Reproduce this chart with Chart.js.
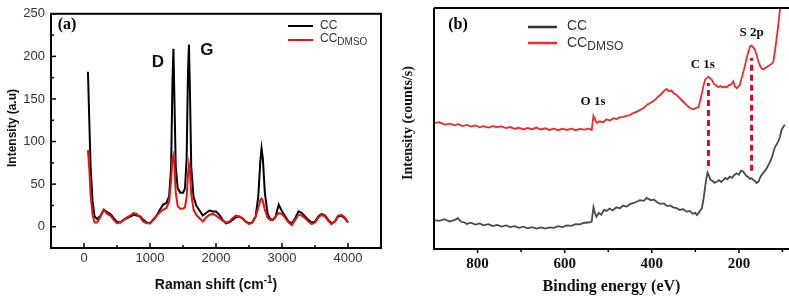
<!DOCTYPE html>
<html lang="en">
<head>
    <meta charset="UTF-8">
    <title>Raman and XPS spectra</title>
    <script src="https://cdn.jsdelivr.net/npm/chart.js"></script>
    <style>
        * {
            margin: 0;
            padding: 0;
            box-sizing: border-box;
        }

        body {
            background: #fff;
            width: 789px;
            height: 296px;
            overflow: hidden;
            position: relative;
        }

        .panel {
            position: absolute;
            top: 0;
        }

        #ramanPanel { left: 0; width: 400px; height: 296px; }
        #xpsPanel { left: 400px; width: 389px; height: 296px; }
    </style>
</head>
<body>
    <div class="panel" id="ramanPanel"><canvas id="raman" width="400" height="296"></canvas></div>
    <div class="panel" id="xpsPanel"><canvas id="xps" width="389" height="296"></canvas></div>
    <script>
        // (a) Raman spectra
        const ramanShift = [
            60, 80, 100, 130, 160, 200, 250, 300, 350, 400,
            450, 500, 550, 600, 650, 700, 750, 800, 850, 900,
            950, 1000, 1050, 1100, 1150, 1200, 1250, 1290, 1320, 1340,
            1355, 1370, 1390, 1420, 1460, 1500, 1530, 1555, 1575, 1590,
            1605, 1625, 1660, 1700, 1750, 1800, 1850, 1900, 1950, 2000,
            2050, 2100, 2150, 2200, 2250, 2300, 2350, 2400, 2450, 2500,
            2550, 2600, 2640, 2670, 2690, 2710, 2740, 2780, 2820, 2860,
            2900, 2950, 3000, 3050, 3100, 3150, 3200, 3250, 3300, 3350,
            3400, 3450, 3500, 3550, 3600, 3650, 3700, 3750, 3800, 3850,
            3900, 3950, 4000
        ];
        const ramanCC = [
            182, 125, 70, 30, 12, 9, 13, 20, 17, 15,
            10, 6, 5, 8, 10, 12, 14, 13, 12, 8,
            5, 4, 8, 13, 20, 26, 28, 36, 70, 170,
            209, 150, 70, 45, 40, 40, 45, 80, 180, 214,
            160, 70, 35, 25, 19, 13, 16, 19, 18, 18,
            14, 8, 4, 5, 8, 11, 12, 10, 6, 4,
            5, 12, 35, 75, 92, 80, 40, 16, 9, 8,
            11, 26, 18, 12, 6, 4, 10, 18, 16, 12,
            8, 5, 6, 12, 15, 13, 8, 4, 6, 12,
            13, 10, 5
        ];
        const ramanDMSO = [
            90, 68, 38, 14, 5, 5, 12, 20, 15, 13,
            8, 4, 5, 8, 11, 13, 16, 15, 11, 6,
            4, 4, 9, 13, 17, 20, 22, 30, 55, 80,
            84, 72, 40, 24, 21, 21, 23, 35, 60, 73,
            65, 38, 20, 14, 10, 6, 11, 14, 15, 13,
            10, 7, 5, 6, 10, 13, 12, 10, 6, 3,
            5, 12, 22, 31, 33, 30, 20, 11, 8, 8,
            12, 16, 15, 10, 5, 2, 8, 14, 13, 10,
            6, 3, 5, 11, 14, 12, 7, 3, 6, 13,
            14, 11, 5
        ];
        const ramanXTicks = [0, 1000, 2000, 3000, 4000];
        const ramanXMinor = [500, 1500, 2500, 3500];
        const ramanYTicks = [0, 50, 100, 150, 200, 250];
        const ramanYMinor = [25, 75, 125, 175, 225];

        // (b) XPS survey
        const xpsEnergyDMSO = [
            900, 888, 876, 864, 852, 845, 835, 825, 815, 805,
            795, 787, 775, 765, 755, 745, 735, 725, 715, 705,
            695, 685, 675, 665, 655, 645, 635, 625, 615, 605,
            595, 585, 575, 565, 555, 545, 538, 534, 530, 526,
            520, 512, 504, 496, 488, 481, 474, 466, 458, 450,
            442, 435, 427, 418, 410, 402, 393, 385, 378, 372,
            366, 360, 355, 350, 343, 336, 328, 320, 312, 305,
            298, 293, 289, 285, 281, 277, 273, 270, 266, 262,
            257, 252, 247, 242, 237, 232, 228, 223, 218, 213,
            209, 205, 201, 198, 194, 190, 186, 182, 178, 174,
            171, 167, 163, 159, 155, 151, 148, 144, 140, 135,
            129, 125, 121, 117, 113, 110, 106, 100, 95
        ];
        const xpsDMSO = [
            52.2, 52.6, 51.6, 52.0, 51.3, 51.9, 51.0, 51.5, 50.8, 51.3,
            50.5, 51.0, 50.4, 51.0, 50.6, 50.9, 50.2, 50.6, 49.9, 50.3,
            49.6, 50.2, 49.7, 50.4, 49.6, 50.1, 49.4, 49.9, 49.3, 49.9,
            49.4, 49.9, 49.3, 49.8, 49.5, 49.9, 49.4, 55.2, 53.5, 52.3,
            53.0, 52.6, 53.8, 53.3, 54.3, 53.9, 54.6, 54.8, 55.2, 55.6,
            56.5, 56.9, 57.7, 58.6, 60.0, 60.8, 61.8, 63.3, 64.3, 65.6,
            66.4, 65.4, 65.8, 64.6, 63.9, 62.6, 61.1, 59.7, 58.4, 58.0,
            58.6, 58.8, 61.5, 64.6, 68.0, 70.5, 71.0, 71.5, 70.8, 70.1,
            68.4, 67.8, 67.1, 67.6, 67.0, 67.4, 67.1, 68.0, 68.2, 69.6,
            67.4, 66.7, 67.5, 68.0, 70.8, 73.3, 76.3, 79.4, 82.0, 84.2,
            84.4, 83.6, 82.6, 80.2, 77.7, 75.8, 75.0, 74.5, 75.0, 75.6,
            76.3, 76.8, 77.7, 82.5, 88.0, 92.5, 99.0, 104.0, 110.0
        ];
        const xpsEnergyCC = [
            900, 888, 876, 864, 852, 845, 838, 830, 825, 815,
            805, 795, 787, 775, 765, 755, 745, 735, 725, 715,
            705, 695, 685, 675, 665, 655, 645, 635, 625, 615,
            605, 595, 585, 575, 565, 555, 545, 538, 534, 530,
            527, 522, 516, 510, 504, 497, 490, 481, 473, 466,
            458, 450, 443, 435, 427, 418, 412, 408, 402, 395,
            388, 381, 372, 365, 358, 351, 343, 336, 328, 320,
            313, 306, 300, 297, 293, 289, 285, 281, 278, 275,
            272, 268, 265, 260, 256, 251, 246, 241, 236, 231,
            226, 221, 216, 211, 205, 200, 195, 190, 186, 182,
            179, 175, 171, 167, 163, 159, 155, 151, 148, 142,
            136, 130, 125, 121, 117, 113, 110, 106, 102, 97,
            94
        ];
        const xpsCC = [
            12.0, 11.7, 12.4, 11.4, 12.1, 12.8, 11.3, 11.0, 10.4, 10.9,
            10.1, 10.6, 9.8, 10.3, 9.5, 10.0, 9.3, 9.8, 9.1, 9.5,
            8.8, 9.3, 8.6, 9.1, 8.5, 9.0, 8.5, 9.0, 8.8, 9.5,
            9.1, 9.8, 9.6, 10.3, 10.2, 10.9, 11.0, 11.4, 17.3, 14.6,
            13.4, 15.0, 14.2, 16.2, 15.8, 16.8, 16.0, 17.3, 16.9, 18.0,
            17.6, 18.6, 19.0, 19.6, 20.3, 20.0, 21.2, 20.8, 20.2, 20.5,
            19.4, 18.7, 18.9, 17.8, 18.1, 17.3, 17.0, 16.2, 16.5, 15.5,
            15.8, 14.6, 15.0, 14.1, 14.8, 16.0, 16.9, 21.0, 25.2, 29.0,
            31.7, 30.0, 28.6, 28.2, 27.4, 27.9, 28.6, 27.8, 28.6, 29.5,
            28.9, 30.0, 29.5, 30.6, 31.4, 30.8, 32.5, 32.1, 31.0, 30.2,
            30.0, 29.1, 29.4, 28.6, 28.2, 27.4, 27.9, 29.8, 30.7, 32.1,
            33.5, 35.6, 37.6, 40.0, 42.4, 43.5, 44.5, 46.5, 49.4, 51.0,
            51.5
        ];
        const xpsXTicks = [800, 600, 400, 200];
        const xpsXMinor = [700, 500, 300, 100];
        const markerEnergy = [270, 171];
        const markerLow = [34.4, 32.5];
        const markerHigh = [68.9, 79.3];

        const SANS = '"Liberation Sans", Arial, sans-serif';
        const SERIF = '"Liberation Serif", "Times New Roman", serif';
        Chart.defaults.font.family = SANS;

        function line(ctx, x1, y1, x2, y2) {
            ctx.beginPath();
            ctx.moveTo(x1, y1);
            ctx.lineTo(x2, y2);
            ctx.stroke();
        }

        function text(ctx, str, x, y, font, color, align) {
            ctx.font = font;
            ctx.fillStyle = color;
            ctx.textAlign = align || 'center';
            ctx.textBaseline = 'middle';
            ctx.fillText(str, x, y);
        }

        // pieces: [text, font, dy]; draws left to right, or centred on x
        function richText(ctx, pieces, x, y, color, centred) {
            ctx.fillStyle = color;
            ctx.textAlign = 'left';
            ctx.textBaseline = 'middle';
            let total = 0;
            pieces.forEach(p => { ctx.font = p[1]; total += ctx.measureText(p[0]).width; });
            let cx = centred ? x - total / 2 : x;
            pieces.forEach(p => {
                ctx.font = p[1];
                ctx.fillText(p[0], cx, y + p[2]);
                cx += ctx.measureText(p[0]).width;
            });
        }

        // frame, inward ticks, titles, legend and labels for (a)
        const ramanDecor = {
            id: 'ramanDecor',
            afterDraw(chart) {
                const { ctx, chartArea: a, scales: { x, y } } = chart;
                ctx.save();
                ctx.strokeStyle = '#000';
                ctx.lineWidth = 2;
                ctx.strokeRect(a.left, a.top, a.right - a.left, a.bottom - a.top);
                ctx.lineWidth = 1.5;
                ramanXTicks.forEach(v => { const p = x.getPixelForValue(v); line(ctx, p, a.bottom, p, a.bottom - 5); });
                ramanXMinor.forEach(v => { const p = x.getPixelForValue(v); line(ctx, p, a.bottom, p, a.bottom - 3); });
                ramanYTicks.forEach(v => { const p = y.getPixelForValue(v); line(ctx, a.left, p, a.left + 5, p); });
                ramanYMinor.forEach(v => { const p = y.getPixelForValue(v); line(ctx, a.left, p, a.left + 3, p); });

                text(ctx, '(a)', 67, 25, 'bold 16px ' + SERIF, '#000');
                text(ctx, 'D', x.getPixelForValue(1120), y.getPixelForValue(193), 'bold 17px ' + SANS, '#111');
                text(ctx, 'G', x.getPixelForValue(1860), y.getPixelForValue(207), 'bold 17px ' + SANS, '#111');

                richText(ctx, [['Raman shift (cm', 'bold 14px ' + SANS, 0], ['-1', 'bold 10px ' + SANS, -5], [')', 'bold 14px ' + SANS, 0]],
                    (a.left + a.right) / 2, 285, '#111', true);
                ctx.translate(13, 128);
                ctx.rotate(-Math.PI / 2);
                text(ctx, 'Intensity (a.u)', 0, 0, 'bold 12px ' + SANS, '#111');
                ctx.setTransform(1, 0, 0, 1, 0, 0);

                // legend
                ctx.lineWidth = 2;
                ctx.strokeStyle = '#000';
                line(ctx, 288, 26, 313, 26);
                ctx.strokeStyle = '#e31414';
                line(ctx, 288, 40, 313, 40);
                richText(ctx, [['CC', '12px ' + SANS, 0]], 320, 26, '#333', false);
                richText(ctx, [['CC', '12px ' + SANS, 0], ['DMSO', '10px ' + SANS, 3]], 320, 39, '#333', false);
                ctx.restore();
            }
        };

        // axes lines, outward ticks, titles, legend and labels for (b)
        const xpsDecor = {
            id: 'xpsDecor',
            afterDraw(chart) {
                const { ctx, chartArea: a, scales: { x, y } } = chart;
                ctx.save();
                ctx.strokeStyle = '#000';
                ctx.lineWidth = 2;
                line(ctx, a.left, a.top, a.right, a.top);
                line(ctx, a.left, a.top, a.left, a.bottom);
                line(ctx, a.left - 1, a.bottom, a.right, a.bottom);
                ctx.lineWidth = 1.5;
                xpsXTicks.forEach(v => { const p = x.getPixelForValue(v); line(ctx, p, a.bottom, p, a.bottom + 4); });
                xpsXMinor.forEach(v => { const p = x.getPixelForValue(v); line(ctx, p, a.bottom, p, a.bottom + 3); });

                text(ctx, '(b)', 58, 25, 'bold 16px ' + SERIF, '#000');
                text(ctx, 'O 1s', x.getPixelForValue(535), y.getPixelForValue(61), 'bold 13px ' + SERIF, '#111');
                text(ctx, 'C 1s', x.getPixelForValue(283), y.getPixelForValue(76.3), 'bold 13px ' + SERIF, '#111');
                text(ctx, 'S 2p', x.getPixelForValue(171), y.getPixelForValue(89.6), 'bold 13px ' + SERIF, '#111');

                text(ctx, 'Binding energy (eV)', (a.left + a.right) / 2, 287, 'bold 16px ' + SERIF, '#111');
                ctx.translate(8, 123);
                ctx.rotate(-Math.PI / 2);
                text(ctx, 'Intensity (counts/s)', 0, 0, 'bold 14px ' + SERIF, '#111');
                ctx.setTransform(1, 0, 0, 1, 0, 0);

                // legend
                ctx.lineWidth = 2.5;
                ctx.strokeStyle = '#333';
                line(ctx, 128, 27, 157, 27);
                ctx.strokeStyle = '#f02b2b';
                line(ctx, 128, 43, 157, 43);
                richText(ctx, [['CC', '14px ' + SANS, 0]], 167, 26, '#333', false);
                richText(ctx, [['CC', '14px ' + SANS, 0], ['DMSO', '12px ' + SANS, 4]], 167, 43, '#333', false);
                ctx.restore();
            }
        };

        const points = (xs, ys) => xs.map((v, i) => ({ x: v, y: ys[i] }));
        const plain = v => String(v);

        new Chart(document.getElementById('raman'), {
            type: 'line',
            data: {
                datasets: [{
                    label: 'CC',
                    data: points(ramanShift, ramanCC),
                    borderColor: '#000',
                    borderWidth: 2,
                    pointRadius: 0,
                    order: 2
                }, {
                    label: 'CCDMSO',
                    data: points(ramanShift, ramanDMSO),
                    borderColor: '#e31414',
                    borderWidth: 2,
                    pointRadius: 0,
                    order: 1
                }]
            },
            options: {
                responsive: false,
                animation: false,
                layout: { padding: { left: 0, right: 19, top: 9, bottom: 0 } },
                plugins: { legend: { display: false }, tooltip: { enabled: false } },
                scales: {
                    x: {
                        type: 'linear',
                        min: -500,
                        max: 4500,
                        afterBuildTicks: s => { s.ticks = ramanXTicks.map(v => ({ value: v })); },
                        afterFit: s => { s.height = 48; },
                        grid: { display: false, drawTicks: false },
                        border: { display: false },
                        ticks: { padding: 3, color: '#333', font: { size: 13 }, callback: plain }
                    },
                    y: {
                        min: -25,
                        max: 250,
                        afterBuildTicks: s => { s.ticks = ramanYTicks.map(v => ({ value: v })); },
                        afterFit: s => { s.width = 51; },
                        grid: { display: false, drawTicks: false },
                        border: { display: false },
                        ticks: { padding: 6, color: '#333', font: { size: 13 }, callback: plain }
                    }
                }
            },
            plugins: [ramanDecor]
        });

        const markerSets = markerEnergy.map((e, i) => ({
            data: [{ x: e, y: markerLow[i] }, { x: e, y: markerHigh[i] }],
            borderColor: '#c8102e',
            borderWidth: 3,
            borderDash: [6, 4],
            pointRadius: 0,
            order: 0
        }));

        new Chart(document.getElementById('xps'), {
            type: 'line',
            data: {
                datasets: [{
                    label: 'CC',
                    data: points(xpsEnergyCC, xpsCC),
                    borderColor: '#4a4a4a',
                    borderWidth: 1.8,
                    pointRadius: 0,
                    order: 2
                }, {
                    label: 'CCDMSO',
                    data: points(xpsEnergyDMSO, xpsDMSO),
                    borderColor: '#f02b2b',
                    borderWidth: 1.8,
                    pointRadius: 0,
                    order: 1
                }].concat(markerSets)
            },
            options: {
                responsive: false,
                animation: false,
                layout: { padding: { left: 34, right: 0, top: 8, bottom: 0 } },
                plugins: { legend: { display: false }, tooltip: { enabled: false } },
                scales: {
                    x: {
                        type: 'linear',
                        reverse: true,
                        min: 85,
                        max: 900,
                        afterBuildTicks: s => { s.ticks = xpsXTicks.map(v => ({ value: v })); },
                        afterFit: s => { s.height = 47; },
                        grid: { display: false, drawTicks: false },
                        border: { display: false },
                        ticks: { padding: 6, color: '#111', font: { family: SERIF, size: 15, weight: 'bold' }, callback: plain }
                    },
                    y: {
                        display: false,
                        min: 0,
                        max: 100
                    }
                }
            },
            plugins: [xpsDecor]
        });
    </script>
</body>
</html>
